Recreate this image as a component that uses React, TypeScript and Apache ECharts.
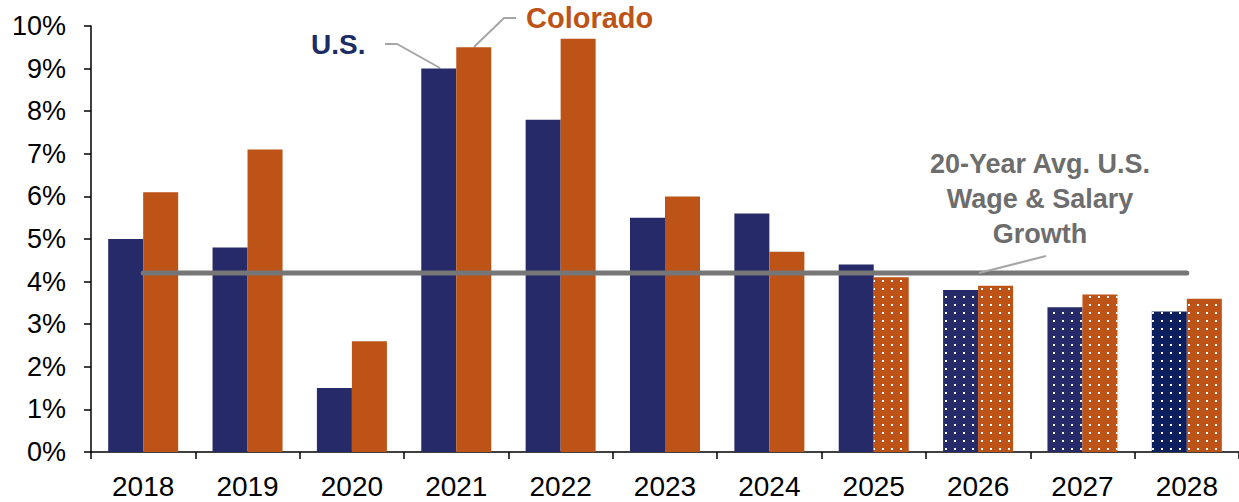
import React, { useEffect, useRef } from "react";
import * as echarts from "echarts";

const years = ["2018", "2019", "2020", "2021", "2022", "2023", "2024", "2025", "2026", "2027", "2028"];
const usGrowth = [5.0, 4.8, 1.5, 9.0, 7.8, 5.5, 5.6, 4.4, 3.8, 3.4, 3.3];
const coGrowth = [6.1, 7.1, 2.6, 9.5, 9.7, 6.0, 4.7, 4.1, 3.9, 3.7, 3.6];
const usForecastFrom = 8; // first forecast index for U.S.
const coForecastFrom = 7; // first forecast index for Colorado
const avgUsGrowth = 4.2;
const yTicks = [0, 1, 2, 3, 4, 5, 6, 7, 8, 9, 10];

const NAVY = "#272a68";
const NAVY_DARK = "#0d1f5c";
const ORANGE = "#bd5316";
const GREY = "#767676";
const FONT = "'Liberation Sans', Arial, sans-serif";

const dots = {
  symbol: "rect",
  symbolSize: 1,
  dashArrayX: [2, 7],
  dashArrayY: [2, 6],
  rotation: 0,
  color: "#ffffff",
};

export default function App() {
  const ref = useRef<HTMLDivElement>(null);
  useEffect(() => {
    if (!ref.current) return;
    const chart = echarts.init(ref.current, undefined, { renderer: "svg" });
    const usData = usGrowth.map((v, i) =>
      i >= usForecastFrom
        ? { value: v, itemStyle: { color: i === years.length - 1 ? NAVY_DARK : NAVY, decal: dots } }
        : { value: v }
    );
    const coData = coGrowth.map((v, i) =>
      i >= coForecastFrom ? { value: v, itemStyle: { color: ORANGE, decal: dots } } : { value: v }
    );
    chart.setOption({
      animation: false,
      grid: { left: 91, right: 0, top: 26, bottom: 50, containLabel: false },
      xAxis: {
        type: "category",
        data: years,
        axisLine: { lineStyle: { color: "#000", width: 1.5 } },
        axisTick: { show: true, length: 7, lineStyle: { color: "#000", width: 1.5 } },
        axisLabel: { color: "#000", fontSize: 28, fontFamily: FONT, margin: 20 },
      },
      yAxis: {
        type: "value",
        min: yTicks[0],
        max: yTicks[yTicks.length - 1],
        interval: 1,
        splitLine: { show: false },
        axisLine: { show: true, lineStyle: { color: "#000", width: 1.5 } },
        axisTick: { show: true, length: 7, lineStyle: { color: "#000", width: 1.5 } },
        axisLabel: { color: "#000", fontSize: 27, fontFamily: FONT, margin: 25, formatter: "{value}%" },
      },
      series: [
        {
          type: "bar",
          name: "U.S.",
          data: usData,
          barWidth: 35,
          barGap: "0%",
          itemStyle: { color: NAVY },
        },
        {
          type: "bar",
          name: "Colorado",
          data: coData,
          barWidth: 35,
          barGap: "0%",
          itemStyle: { color: ORANGE },
        },
        {
          type: "line",
          name: "20-Year Avg.",
          data: years.map(() => avgUsGrowth),
          symbol: "none",
          z: 10,
          lineStyle: { color: GREY, width: 5, cap: "round" },
        },
      ],
      graphic: [
        {
          type: "text",
          left: 311,
          top: 30,
          style: { text: "U.S.", fill: "#1b2d66", font: `bold 28px ${FONT}` },
        },
        {
          type: "polyline",
          shape: { points: [[385, 44], [397, 44], [440, 68]] },
          style: { stroke: "#a6a6a6", lineWidth: 2, fill: "none" },
        },
        {
          type: "text",
          left: 526,
          top: 3,
          style: { text: "Colorado", fill: ORANGE, font: `bold 29px ${FONT}` },
        },
        {
          type: "polyline",
          shape: { points: [[516, 18], [504, 18], [474, 47]] },
          style: { stroke: "#a6a6a6", lineWidth: 2, fill: "none" },
        },
        {
          type: "text",
          x: 1040,
          y: 146,
          style: {
            text: "20-Year Avg. U.S.\nWage & Salary\nGrowth",
            fill: "#6d6d6d",
            font: `bold 27px ${FONT}`,
            align: "center",
            lineHeight: 35,
          },
        },
        {
          type: "line",
          shape: { x1: 1046, y1: 256, x2: 979, y2: 273 },
          style: { stroke: "#a6a6a6", lineWidth: 2 },
          z: 20,
        },
      ],
    });
    return () => chart.dispose();
  }, []);
  return (
    <div
      ref={ref}
      style={{ position: "fixed", left: 0, top: 0, width: 1239, height: 502, background: "#fff" }}
    />
  );
}
